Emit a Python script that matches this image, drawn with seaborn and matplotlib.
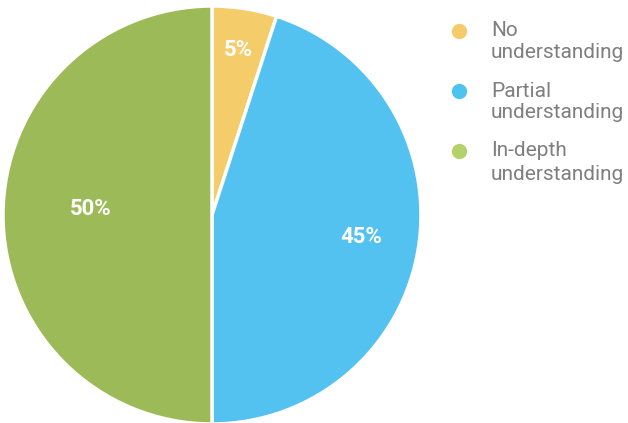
import matplotlib
matplotlib.use("Agg")
import matplotlib.pyplot as plt
from matplotlib.lines import Line2D
from matplotlib import font_manager
import numpy as np
import seaborn as sns

sns.set_theme(style="white")
plt.rcParams["font.family"] = ["Roboto", "DejaVu Sans"]

categories = ["No\nunderstanding", "Partial\nunderstanding", "In-depth\nunderstanding"]
shares = [5, 45, 50]
slice_colors = ["#F5CC6A", "#53C2F0", "#9DBA59"]
legend_colors = ["#F5CA6A", "#4FC3F0", "#B3D36A"]
label_radii = [0.80, 0.72, 0.58]
label_turns = [0.0, 0.7, -3.0]   # small angular nudges (degrees) off each bisector

W, H = 628, 423
fig = plt.figure(figsize=(W / 100, H / 100), dpi=100)
ax = fig.add_axes([3 / W, -1 / H, 418 / W, 418 / H])

names = {f.name for f in font_manager.fontManager.ttflist}
narrow = [n for n in ["Liberation Sans Narrow", "DejaVu Sans Condensed"] if n in names]
label_family = narrow + ["Roboto", "DejaVu Sans"]

wedges, _, autotexts = ax.pie(
    shares,
    colors=slice_colors,
    startangle=90,
    counterclock=False,
    autopct="%d%%",
    radius=1.0,
    wedgeprops=dict(edgecolor="white", linewidth=2.5),
    textprops=dict(color="white", fontsize=16, fontweight="bold",
                   family=label_family),
)

# place each percentage label along its wedge's bisector
for w, t, r, d in zip(wedges, autotexts, label_radii, label_turns):
    mid = np.deg2rad((w.theta1 + w.theta2) / 2 + d)
    t.set_position((r * np.cos(mid), r * np.sin(mid)))

ax.set_xlim(-1, 1)
ax.set_ylim(-1, 1)
ax.set_aspect("equal")
ax.axis("off")

# legend: dot beside the first line of each two-line label
marker_x, text_x = 459, 491
row_y = [31, 91.5, 151]
row_spacing = [1.17, 1.11, 1.28]
for c, lab, y, ls in zip(legend_colors, categories, row_y, row_spacing):
    fig.add_artist(Line2D([marker_x / W], [1 - y / H], transform=fig.transFigure,
                          marker="o", markersize=10, linestyle="none",
                          markerfacecolor=c, markeredgecolor=c))
    fig.text(text_x / W, 1 - (y - 9.5) / H, lab, ha="left", va="top",
             fontsize=15, color="#7F7F7F", linespacing=ls)

fig.savefig("out.png", dpi=100)
